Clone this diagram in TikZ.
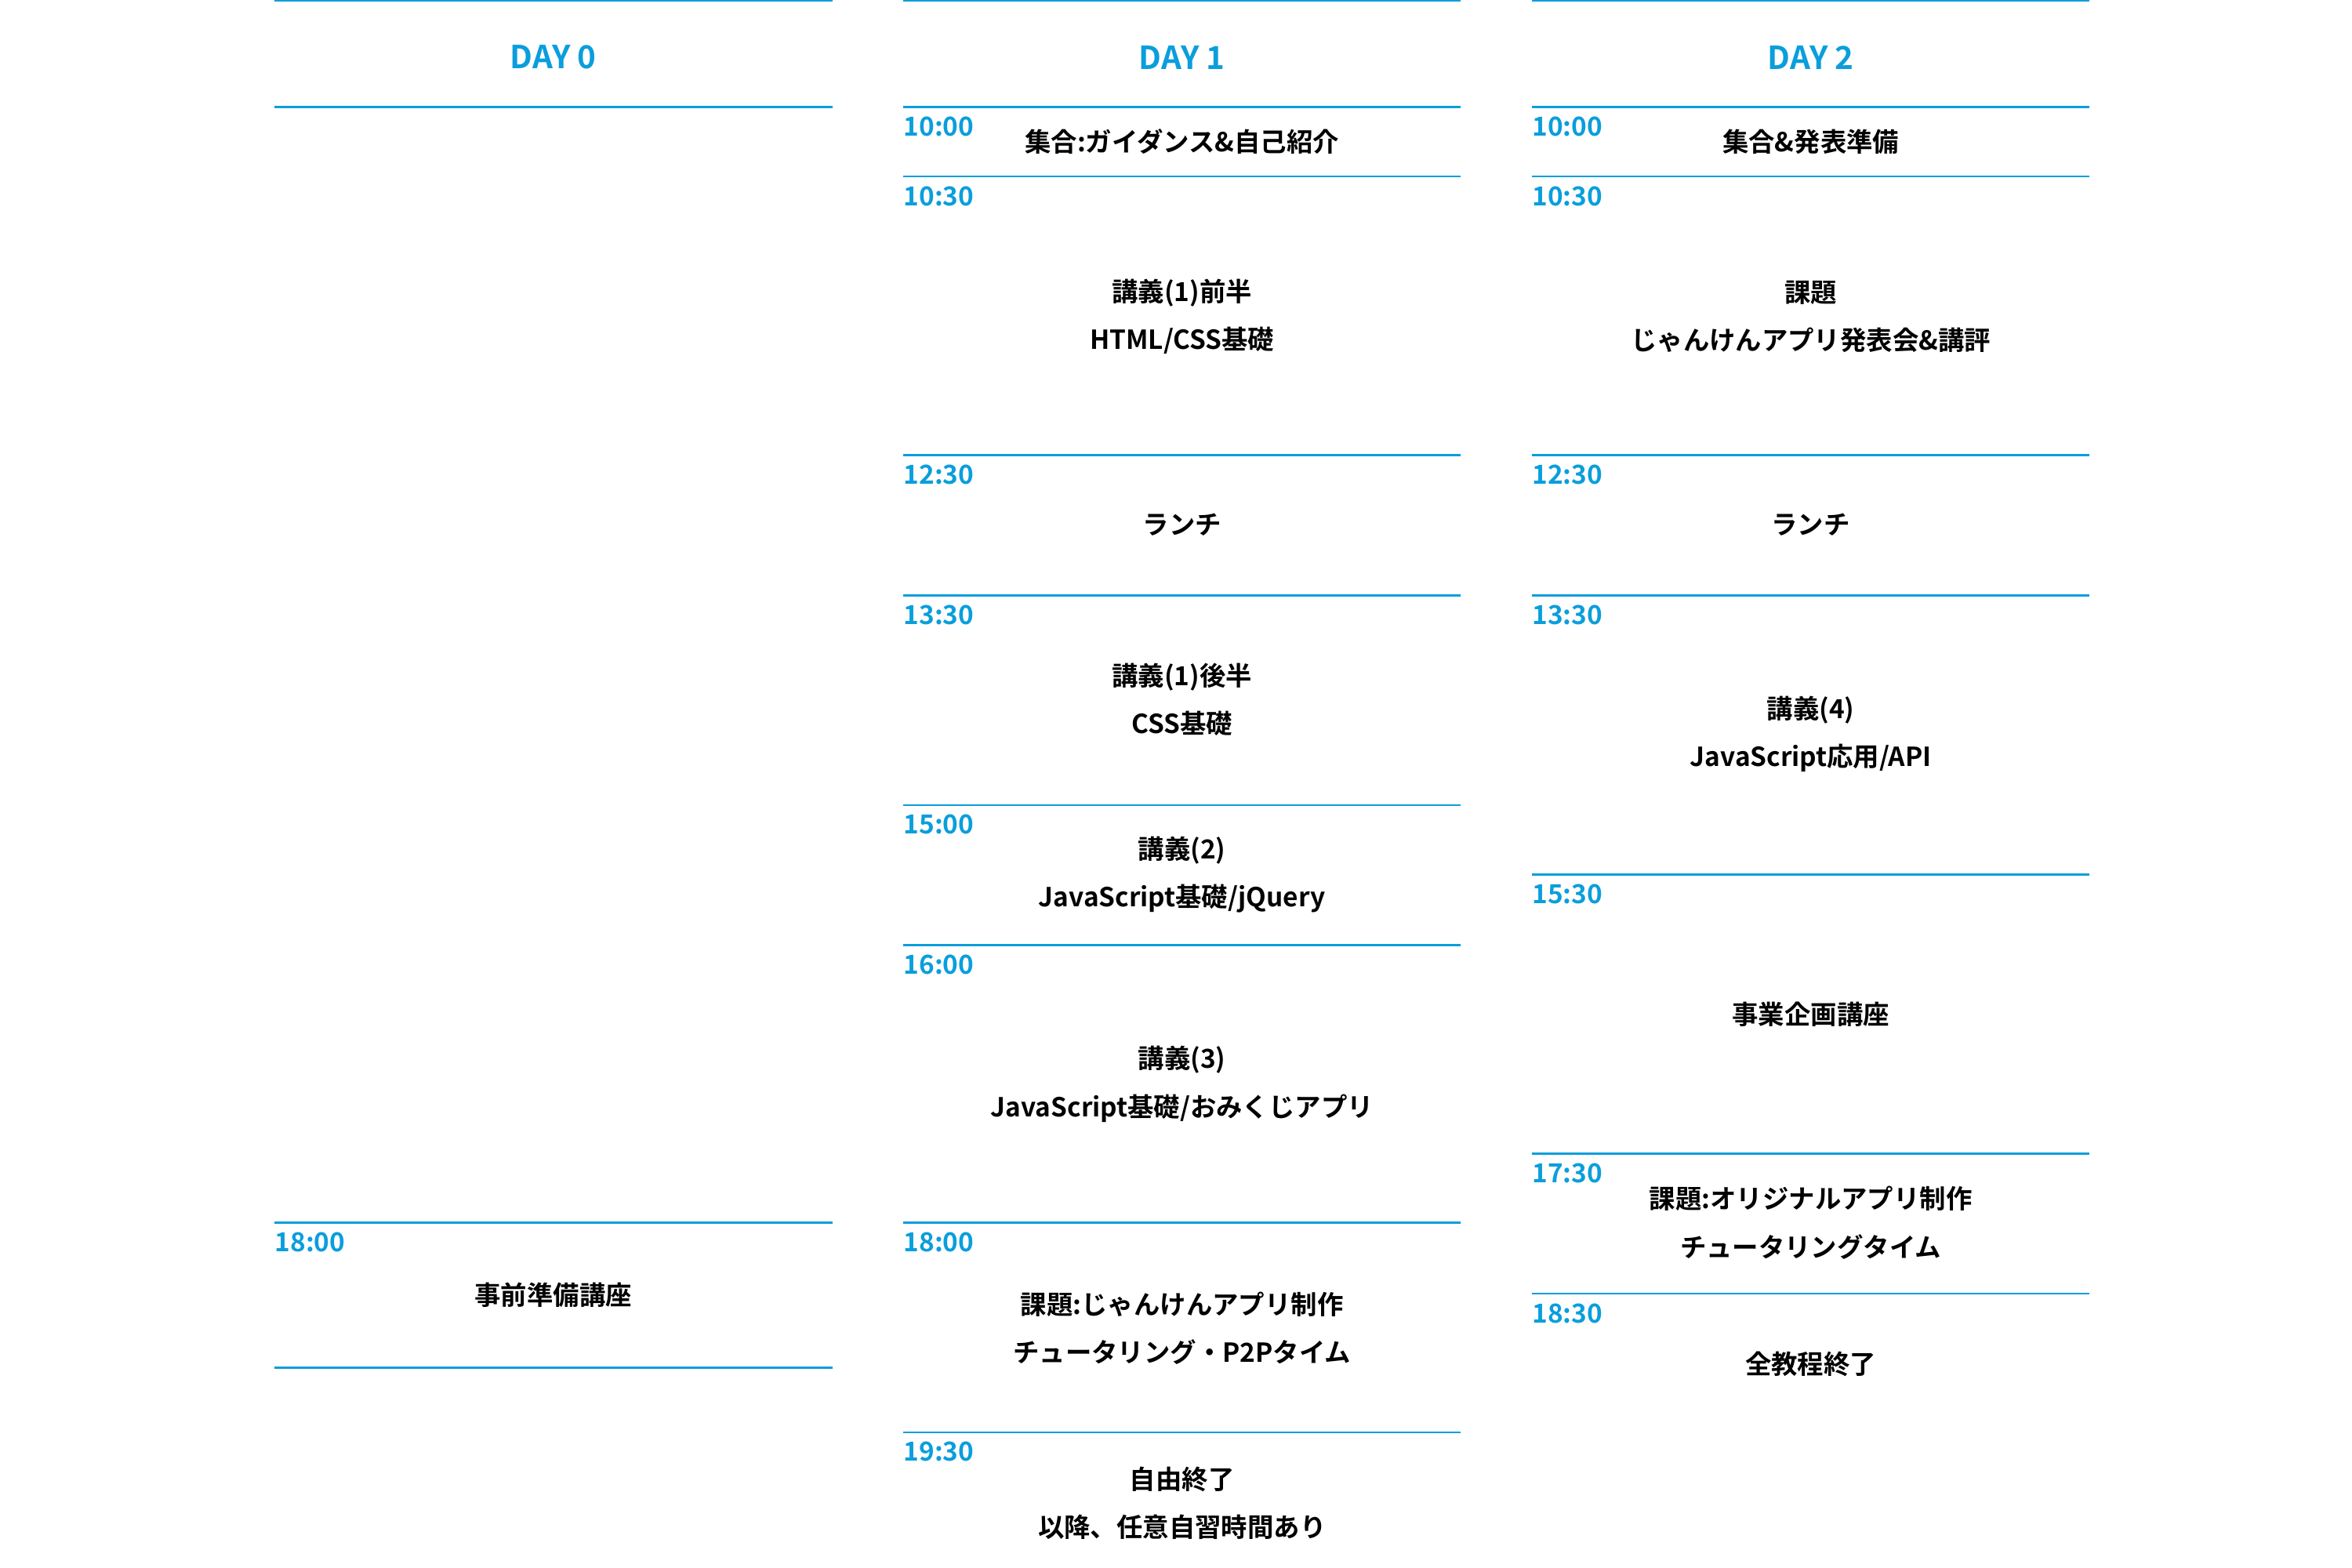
\documentclass[tikz,border=0pt]{standalone}
\usepackage{fontspec}
\newfontfamily\jp{Noto Sans CJK JP}[BoldFont={Noto Sans CJK JP Bold}]
\definecolor{cy}{HTML}{0A9EDC}
\begin{document}
\begin{tikzpicture}[x=0.01923cm,y=-0.01923cm,
  sep/.style={cy,line width=0.8pt},
  tm/.style={anchor=west,inner sep=0,text=cy,font=\jp\bfseries\fontsize{9.5}{10}\selectfont},
  hd/.style={text=cy,font=\jp\bfseries\fontsize{11.5}{12}\selectfont},
  ev/.style={align=center,font=\jp\bfseries\fontsize{9.5}{17.5}\selectfont}]
\useasboundingbox (0,0) rectangle (1560,1040);
% column lines
\foreach \x in {182,599,1016}{
  \draw[sep] (\x,0.5) -- ++(370,0);
  \draw[sep] (\x,71) -- ++(370,0);
  \draw[sep] (\x,1044) -- ++(370,0);}
\node[hd] (h0) at (367,38) {DAY 0};
\node[hd] (h1) at (784,38) {DAY 1};
\node[hd] (h2) at (1201,38) {DAY 2};
% Day 0
\foreach \y in {811,907}{\draw[sep] (182,\y) -- ++(370,0);}
\node[tm] (t00) at (182,824) {18:00};
\node[ev] (e00) at (367,859) {事前準備講座};
% Day 1
\foreach \y in {117,302,395,534,627,811,950}{\draw[sep] (599,\y) -- ++(370,0);}
\node[tm] (t10) at (599,84) {10:00};
\node[tm] (t11) at (599,130) {10:30};
\node[tm] (t12) at (599,315) {12:30};
\node[tm] (t13) at (599,408) {13:30};
\node[tm] (t14) at (599,547) {15:00};
\node[tm] (t15) at (599,640) {16:00};
\node[tm] (t16) at (599,824) {18:00};
\node[tm] (t17) at (599,963) {19:30};
\node[ev] (e10) at (784,94) {集合:ガイダンス\&自己紹介};
\node[ev] (e11) at (784,210) {講義(1)前半\\HTML/CSS基礎};
\node[ev] (e12) at (784,348) {ランチ};
\node[ev] (e13) at (784,464) {講義(1)後半\\CSS基礎};
\node[ev] (e14) at (784,580) {講義(2)\\JavaScript基礎/jQuery};
\node[ev] (e15) at (784,719) {講義(3)\\JavaScript基礎/おみくじアプリ};
\node[ev] (e16) at (784,881) {課題:じゃんけんアプリ制作\\チュータリング・P2Pタイム};
\node[ev] (e17) at (784,997) {自由終了\\以降、任意自習時間あり};
% Day 2
\foreach \y in {117,302,395,580,765,858}{\draw[sep] (1016,\y) -- ++(370,0);}
\node[tm] (t20) at (1016,84) {10:00};
\node[tm] (t21) at (1016,130) {10:30};
\node[tm] (t22) at (1016,315) {12:30};
\node[tm] (t23) at (1016,408) {13:30};
\node[tm] (t24) at (1016,593) {15:30};
\node[tm] (t25) at (1016,778) {17:30};
\node[tm] (t26) at (1016,871) {18:30};
\node[ev] (e20) at (1201,94) {集合\&発表準備};
\node[ev] (e21) at (1201,210) {課題\\じゃんけんアプリ発表会\&講評};
\node[ev] (e22) at (1201,348) {ランチ};
\node[ev] (e23) at (1201,487) {講義(4)\\JavaScript応用/API};
\node[ev] (e24) at (1201,673) {事業企画講座};
\node[ev] (e25) at (1201,811) {課題:オリジナルアプリ制作\\チュータリングタイム};
\node[ev] (e26) at (1201,905) {全教程終了};
\end{tikzpicture}
\end{document}
